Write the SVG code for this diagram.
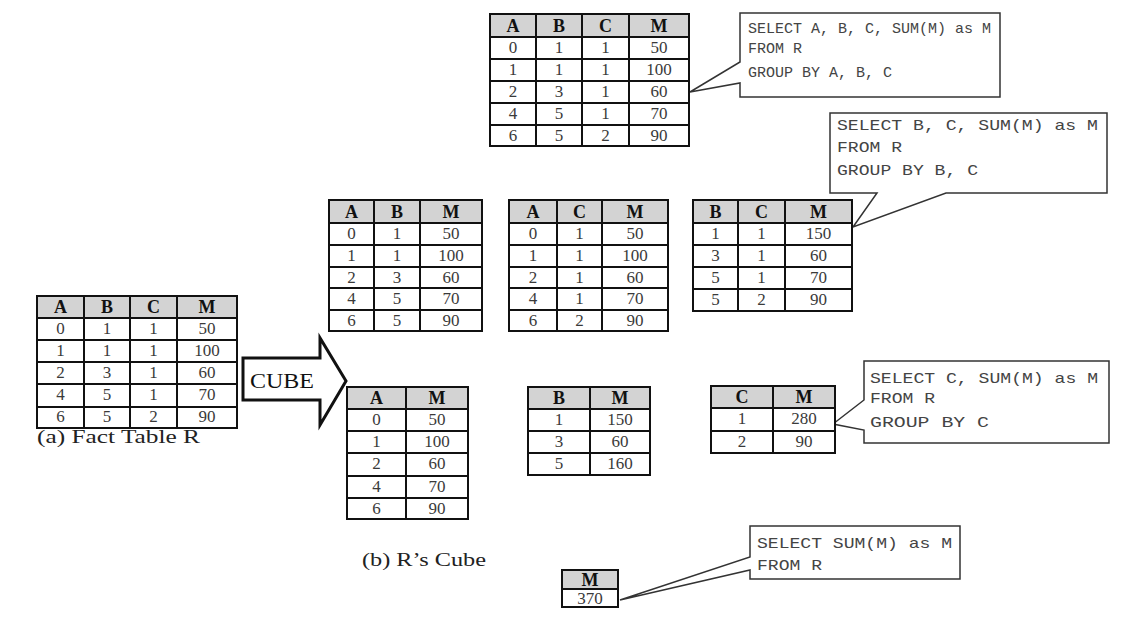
<svg xmlns="http://www.w3.org/2000/svg" width="1140" height="628" viewBox="0 0 1140 628">
<style>
.bg{fill:#ffffff}
.tbl{fill:#ffffff;stroke:#111;stroke-width:2}
.hdr{fill:#d3d3d3;stroke:#111;stroke-width:2}
.grid{fill:none;stroke:#111;stroke-width:2}
.h{font-family:"Liberation Serif",serif;font-weight:bold;font-size:18px;fill:#111;text-anchor:middle}
.d{font-family:"Liberation Serif",serif;font-size:17px;fill:#3a3a3a;text-anchor:middle}
.call{fill:#ffffff;stroke:#333;stroke-width:1.5;stroke-linejoin:miter}
.sql{font-family:"Liberation Mono",monospace;font-size:15px;fill:#444}
.lbl{font-family:"Liberation Serif",serif;font-size:19px;fill:#222}
.arrow{fill:#ffffff;stroke:#111;stroke-width:3;stroke-linejoin:miter}
.cube{font-family:"Liberation Serif",serif;font-size:22px;fill:#111;text-anchor:middle}
</style>
<rect class="bg" x="0" y="0" width="1140" height="628"/>

<g id="connectors">
  <path class="call" d="M740,13 H1000 V97 H740 V83 L690,92 L740,62 Z"/>
  <path class="call" d="M830,113 H1107 V193 H946 L853,227 L877,193 H830 Z"/>
  <path class="call" d="M864,361 H1109 V443 H864 V430 L833,424 L864,400 Z"/>
  <path class="call" d="M750,526 H960 V579 H750 V570 L620,600 L750,557 Z"/>
  <polygon class="arrow" points="243,358 320,358 320,338 346,381 320,425 320,400 243,400"/>
</g>

<g id="cube-arrow">
  <text class="cube" x="282" y="388" textLength="64" lengthAdjust="spacingAndGlyphs">CUBE</text>
</g>

<g id="sql-abc">
  <text class="sql" x="748" y="33">SELECT A, B, C, SUM(M) as M</text>
  <text class="sql" x="748" y="53">FROM R</text>
  <text class="sql" x="748" y="77">GROUP BY A, B, C</text>
</g>
<g id="sql-bc">
  <text class="sql" x="837" y="130" textLength="261" lengthAdjust="spacingAndGlyphs">SELECT B, C, SUM(M) as M</text>
  <text class="sql" x="837" y="152" textLength="65" lengthAdjust="spacingAndGlyphs">FROM R</text>
  <text class="sql" x="837" y="175" textLength="141" lengthAdjust="spacingAndGlyphs">GROUP BY B, C</text>
</g>
<g id="sql-c">
  <text class="sql" x="870" y="383" textLength="228" lengthAdjust="spacingAndGlyphs">SELECT C, SUM(M) as M</text>
  <text class="sql" x="870" y="403" textLength="65" lengthAdjust="spacingAndGlyphs">FROM R</text>
  <text class="sql" x="870" y="427" textLength="119" lengthAdjust="spacingAndGlyphs">GROUP BY C</text>
</g>
<g id="sql-all">
  <text class="sql" x="757" y="548" textLength="195" lengthAdjust="spacingAndGlyphs">SELECT SUM(M) as M</text>
  <text class="sql" x="757" y="570" textLength="65" lengthAdjust="spacingAndGlyphs">FROM R</text>
</g>

<g id="table-abc">
  <rect class="tbl" x="490" y="14" width="199" height="132"/>
  <rect class="hdr" x="490" y="14" width="199" height="23"/>
  <path class="grid" d="M490,59 H689 M490,81 H689 M490,103 H689 M490,125 H689 M536,14 V146 M582,14 V146 M629,14 V146"/>
  <text class="h" x="513" y="32">A</text><text class="h" x="559" y="32">B</text><text class="h" x="605.5" y="32">C</text><text class="h" x="659" y="32">M</text>
  <text class="d" x="513" y="53">0</text><text class="d" x="559" y="53">1</text><text class="d" x="605.5" y="53">1</text><text class="d" x="659" y="53">50</text>
  <text class="d" x="513" y="75">1</text><text class="d" x="559" y="75">1</text><text class="d" x="605.5" y="75">1</text><text class="d" x="659" y="75">100</text>
  <text class="d" x="513" y="97">2</text><text class="d" x="559" y="97">3</text><text class="d" x="605.5" y="97">1</text><text class="d" x="659" y="97">60</text>
  <text class="d" x="513" y="119">4</text><text class="d" x="559" y="119">5</text><text class="d" x="605.5" y="119">1</text><text class="d" x="659" y="119">70</text>
  <text class="d" x="513" y="141">6</text><text class="d" x="559" y="141">5</text><text class="d" x="605.5" y="141">2</text><text class="d" x="659" y="141">90</text>
</g>

<g id="fact-table">
  <rect class="tbl" x="37" y="296" width="200" height="132"/>
  <rect class="hdr" x="37" y="296" width="200" height="22"/>
  <path class="grid" d="M37,340 H237 M37,362 H237 M37,384 H237 M37,407 H237 M84,296 V428 M130,296 V428 M177,296 V428"/>
  <text class="h" x="60.5" y="313">A</text><text class="h" x="107" y="313">B</text><text class="h" x="153.5" y="313">C</text><text class="h" x="207" y="313">M</text>
  <text class="d" x="60.5" y="334">0</text><text class="d" x="107" y="334">1</text><text class="d" x="153.5" y="334">1</text><text class="d" x="207" y="334">50</text>
  <text class="d" x="60.5" y="356">1</text><text class="d" x="107" y="356">1</text><text class="d" x="153.5" y="356">1</text><text class="d" x="207" y="356">100</text>
  <text class="d" x="60.5" y="378">2</text><text class="d" x="107" y="378">3</text><text class="d" x="153.5" y="378">1</text><text class="d" x="207" y="378">60</text>
  <text class="d" x="60.5" y="400">4</text><text class="d" x="107" y="400">5</text><text class="d" x="153.5" y="400">1</text><text class="d" x="207" y="400">70</text>
  <text class="d" x="60.5" y="422">6</text><text class="d" x="107" y="422">5</text><text class="d" x="153.5" y="422">2</text><text class="d" x="207" y="422">90</text>
  <text class="lbl" x="37" y="443" textLength="163" lengthAdjust="spacingAndGlyphs">(a) Fact Table R</text>
</g>

<g id="table-ab">
  <rect class="tbl" x="329" y="200" width="153" height="131"/>
  <rect class="hdr" x="329" y="200" width="153" height="23"/>
  <path class="grid" d="M329,245 H482 M329,267 H482 M329,288 H482 M329,310 H482 M374,200 V331 M420,200 V331"/>
  <text class="h" x="351.5" y="218">A</text><text class="h" x="397" y="218">B</text><text class="h" x="451" y="218">M</text>
  <text class="d" x="351.5" y="239">0</text><text class="d" x="397" y="239">1</text><text class="d" x="451" y="239">50</text>
  <text class="d" x="351.5" y="261">1</text><text class="d" x="397" y="261">1</text><text class="d" x="451" y="261">100</text>
  <text class="d" x="351.5" y="283">2</text><text class="d" x="397" y="283">3</text><text class="d" x="451" y="283">60</text>
  <text class="d" x="351.5" y="304">4</text><text class="d" x="397" y="304">5</text><text class="d" x="451" y="304">70</text>
  <text class="d" x="351.5" y="326">6</text><text class="d" x="397" y="326">5</text><text class="d" x="451" y="326">90</text>
</g>

<g id="table-ac">
  <rect class="tbl" x="509" y="200" width="159" height="131"/>
  <rect class="hdr" x="509" y="200" width="159" height="23"/>
  <path class="grid" d="M509,245 H668 M509,267 H668 M509,288 H668 M509,310 H668 M557,200 V331 M602,200 V331"/>
  <text class="h" x="533" y="218">A</text><text class="h" x="579.5" y="218">C</text><text class="h" x="635" y="218">M</text>
  <text class="d" x="533" y="239">0</text><text class="d" x="579.5" y="239">1</text><text class="d" x="635" y="239">50</text>
  <text class="d" x="533" y="261">1</text><text class="d" x="579.5" y="261">1</text><text class="d" x="635" y="261">100</text>
  <text class="d" x="533" y="283">2</text><text class="d" x="579.5" y="283">1</text><text class="d" x="635" y="283">60</text>
  <text class="d" x="533" y="304">4</text><text class="d" x="579.5" y="304">1</text><text class="d" x="635" y="304">70</text>
  <text class="d" x="533" y="326">6</text><text class="d" x="579.5" y="326">2</text><text class="d" x="635" y="326">90</text>
</g>

<g id="table-bc">
  <rect class="tbl" x="693" y="200" width="159" height="111"/>
  <rect class="hdr" x="693" y="200" width="159" height="23"/>
  <path class="grid" d="M693,245 H852 M693,267 H852 M693,289 H852 M738,200 V311 M785,200 V311"/>
  <text class="h" x="715.5" y="218">B</text><text class="h" x="761.5" y="218">C</text><text class="h" x="818.5" y="218">M</text>
  <text class="d" x="715.5" y="239">1</text><text class="d" x="761.5" y="239">1</text><text class="d" x="818.5" y="239">150</text>
  <text class="d" x="715.5" y="261">3</text><text class="d" x="761.5" y="261">1</text><text class="d" x="818.5" y="261">60</text>
  <text class="d" x="715.5" y="283">5</text><text class="d" x="761.5" y="283">1</text><text class="d" x="818.5" y="283">70</text>
  <text class="d" x="715.5" y="305">5</text><text class="d" x="761.5" y="305">2</text><text class="d" x="818.5" y="305">90</text>
</g>

<g id="table-a">
  <rect class="tbl" x="347" y="387" width="121" height="132"/>
  <rect class="hdr" x="347" y="387" width="121" height="22"/>
  <path class="grid" d="M347,431 H468 M347,453 H468 M347,476 H468 M347,498 H468 M406,387 V519"/>
  <text class="h" x="376.5" y="404">A</text><text class="h" x="437" y="404">M</text>
  <text class="d" x="376.5" y="425">0</text><text class="d" x="437" y="425">50</text>
  <text class="d" x="376.5" y="447">1</text><text class="d" x="437" y="447">100</text>
  <text class="d" x="376.5" y="469">2</text><text class="d" x="437" y="469">60</text>
  <text class="d" x="376.5" y="492">4</text><text class="d" x="437" y="492">70</text>
  <text class="d" x="376.5" y="514">6</text><text class="d" x="437" y="514">90</text>
  <text class="lbl" x="362" y="566" textLength="124" lengthAdjust="spacingAndGlyphs">(b) R’s Cube</text>
</g>

<g id="table-b">
  <rect class="tbl" x="528" y="387" width="122" height="88"/>
  <rect class="hdr" x="528" y="387" width="122" height="22"/>
  <path class="grid" d="M528,431 H650 M528,453 H650 M590,387 V475"/>
  <text class="h" x="559" y="404">B</text><text class="h" x="620" y="404">M</text>
  <text class="d" x="559" y="425">1</text><text class="d" x="620" y="425">150</text>
  <text class="d" x="559" y="447">3</text><text class="d" x="620" y="447">60</text>
  <text class="d" x="559" y="469">5</text><text class="d" x="620" y="469">160</text>
</g>

<g id="table-c">
  <rect class="tbl" x="711" y="386" width="124" height="67"/>
  <rect class="hdr" x="711" y="386" width="124" height="22"/>
  <path class="grid" d="M711,431 H835 M773,386 V453"/>
  <text class="h" x="742" y="403">C</text><text class="h" x="804" y="403">M</text>
  <text class="d" x="742" y="424">1</text><text class="d" x="804" y="424">280</text>
  <text class="d" x="742" y="447">2</text><text class="d" x="804" y="447">90</text>
</g>

<g id="table-all">
  <rect class="tbl" x="562" y="570" width="56" height="37"/>
  <rect class="hdr" x="562" y="570" width="56" height="19"/>
  <text class="h" x="590" y="586">M</text>
  <text class="d" x="590" y="604">370</text>
</g>
</svg>
